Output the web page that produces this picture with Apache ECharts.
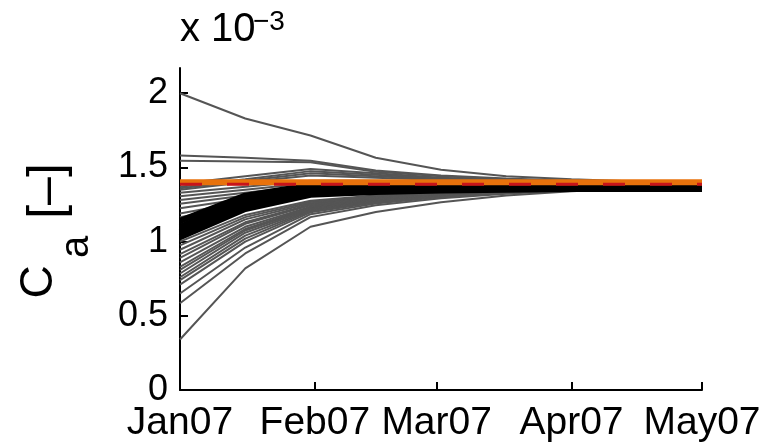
<!DOCTYPE html>
<html>
  <head>
    <meta charset="UTF-8" />
    <title>Ca convergence</title>
    <script src="https://cdn.jsdelivr.net/npm/echarts@6.0.0/dist/echarts.min.js"></script>
  </head>
  <body style="margin: 0; background: #fff">
    <div id="chart" style="width: 773px; height: 444px"></div>
  </body>
  <script>
    // sample dates of every run (every ~15 days)
    const dates = ["2007-01-01", "2007-01-16", "2007-01-31", "2007-02-15", "2007-03-02", "2007-03-17", "2007-04-01", "2007-04-16", "2007-05-01"];
    const tickDates = ["2007-01-01", "2007-02-01", "2007-03-01", "2007-04-01", "2007-05-01"];
    const tickLabels = ["Jan07", "Feb07", "Mar07", "Apr07", "May07"];
    const yTicks = [0, 0.5, 1, 1.5, 2];

    // values in units of 1e-3
    const grayRuns = [
      [2.0, 1.83, 1.715, 1.565, 1.485, 1.44, 1.42, 1.405, 1.4],
      [1.58, 1.565, 1.545, 1.48, 1.445, 1.425, 1.41, 1.4, 1.4],
      [1.545, 1.54, 1.535, 1.47, 1.44, 1.42, 1.405, 1.4, 1.4],
      [1.39, 1.44, 1.49, 1.46, 1.43, 1.415, 1.405, 1.4, 1.4],
      [1.37, 1.42, 1.475, 1.45, 1.425, 1.41, 1.4, 1.4, 1.4],
      [1.36, 1.41, 1.46, 1.44, 1.42, 1.41, 1.4, 1.4, 1.4],
      [1.35, 1.4, 1.445, 1.43, 1.415, 1.405, 1.4, 1.4, 1.4],
      [1.33, 1.37, 1.41, 1.41, 1.405, 1.4, 1.4, 1.4, 1.4],
      [1.305, 1.35, 1.395, 1.4, 1.4, 1.4, 1.4, 1.395, 1.395],
      [1.28, 1.33, 1.38, 1.39, 1.39, 1.39, 1.39, 1.39, 1.39],
      [1.255, 1.31, 1.37, 1.38, 1.385, 1.385, 1.385, 1.385, 1.385],
      [1.225, 1.29, 1.355, 1.37, 1.375, 1.38, 1.38, 1.38, 1.38],
      [1.19, 1.27, 1.345, 1.36, 1.37, 1.375, 1.375, 1.375, 1.375],
      [1.165, 1.25, 1.335, 1.355, 1.365, 1.37, 1.37, 1.37, 1.37],
      [1.0, 1.18, 1.275, 1.31, 1.335, 1.348, 1.36, 1.366, 1.37],
      [0.975, 1.165, 1.267, 1.307, 1.331, 1.346, 1.358, 1.366, 1.37],
      [0.945, 1.15, 1.258, 1.301, 1.327, 1.344, 1.357, 1.366, 1.37],
      [0.915, 1.13, 1.25, 1.296, 1.324, 1.342, 1.356, 1.365, 1.37],
      [0.89, 1.12, 1.245, 1.293, 1.322, 1.341, 1.356, 1.365, 1.37],
      [0.86, 1.1, 1.236, 1.288, 1.319, 1.339, 1.355, 1.365, 1.37],
      [0.83, 1.085, 1.23, 1.284, 1.316, 1.338, 1.354, 1.365, 1.37],
      [0.81, 1.075, 1.224, 1.28, 1.314, 1.336, 1.353, 1.364, 1.37],
      [0.785, 1.06, 1.218, 1.276, 1.312, 1.335, 1.352, 1.364, 1.37],
      [0.76, 1.04, 1.211, 1.272, 1.309, 1.333, 1.352, 1.364, 1.37],
      [0.74, 1.02, 1.205, 1.268, 1.307, 1.332, 1.351, 1.364, 1.37],
      [0.71, 1.0, 1.197, 1.264, 1.304, 1.33, 1.35, 1.363, 1.37],
      [0.65, 0.96, 1.185, 1.256, 1.3, 1.328, 1.349, 1.363, 1.37],
      [0.585, 0.92, 1.165, 1.245, 1.292, 1.323, 1.347, 1.362, 1.37],
      [0.34, 0.82, 1.1, 1.2, 1.265, 1.31, 1.34, 1.36, 1.37]
    ];
    const blackRuns = [
      [1.14, 1.31, 1.38, 1.385, 1.385, 1.385, 1.385, 1.385, 1.385],
      [1.1, 1.28, 1.36, 1.37, 1.372, 1.374, 1.375, 1.375, 1.375],
      [1.065, 1.25, 1.34, 1.355, 1.36, 1.362, 1.365, 1.365, 1.365],
      [1.03, 1.22, 1.315, 1.335, 1.345, 1.35, 1.355, 1.355, 1.355]
    ];
    const orangeLevel = [1.4, 1.4];
    const redLevel = [1.386, 1.386];

    const times = dates.map((d) => Date.parse(d));
    const tickTimes = tickDates.map((d) => Date.parse(d));
    const edgeTimes = [tickTimes[0], tickTimes[tickTimes.length - 1]];
    const font = "'Liberation Sans', Arial, Helvetica, sans-serif";

    let myChart = echarts.init(document.getElementById("chart"));

    let series = [];
    grayRuns.forEach((run) => {
      series.push({
        type: "line",
        data: run.map((v, i) => [times[i], v]),
        symbol: "none",
        lineStyle: { color: "#555555", width: 2 },
        silent: true
      });
    });
    blackRuns.forEach((run) => {
      series.push({
        type: "line",
        data: run.map((v, i) => [times[i], v]),
        symbol: "none",
        lineStyle: { color: "#000", width: 6 },
        silent: true
      });
    });
    series.push({
      type: "line",
      data: orangeLevel.map((v, i) => [edgeTimes[i], v]),
      symbol: "none",
      lineStyle: { color: "#e8720c", width: 6 },
      silent: true
    });
    series.push({
      type: "line",
      data: redLevel.map((v, i) => [edgeTimes[i], v]),
      symbol: "none",
      lineStyle: { color: "#c8141a", width: 3, type: [22, 25] },
      silent: true
    });

    myChart.setOption({
      animation: false,
      grid: { left: 180, right: 71, top: 68, bottom: 54, outerBoundsMode: "none" },
      xAxis: {
        type: "value",
        min: edgeTimes[0],
        max: edgeTimes[1],
        axisLine: { lineStyle: { color: "#000", width: 2 } },
        axisTick: { inside: true, length: 8, customValues: tickTimes, lineStyle: { color: "#000", width: 2 } },
        axisLabel: {
          customValues: tickTimes,
          formatter: (v) => tickLabels[tickTimes.indexOf(v)],
          color: "#000",
          fontSize: 39,
          fontFamily: font,
          margin: 14
        },
        splitLine: { show: false }
      },
      yAxis: {
        type: "value",
        min: 0,
        max: 2.17,
        axisLine: { show: true, lineStyle: { color: "#000", width: 2 } },
        axisTick: { show: true, inside: true, length: 8, customValues: yTicks, lineStyle: { color: "#000", width: 2 } },
        axisLabel: {
          customValues: yTicks,
          formatter: (v) => String(v),
          color: "#000",
          fontSize: 36,
          fontFamily: font,
          margin: 12
        },
        splitLine: { show: false }
      },
      graphic: [
        { type: "text", x: 180, y: 50, style: { text: "x 10", fontSize: 40, fontFamily: font, fill: "#000", textVerticalAlign: "bottom" } },
        { type: "text", x: 253, y: 8, style: { text: "\u22123", fontSize: 28, fontFamily: font, fill: "#000", textVerticalAlign: "top" } },
        { type: "text", x: 39, y: 282, rotation: Math.PI / 2, style: { text: "C", fontSize: 46, fontFamily: font, fill: "#000", textAlign: "center", textVerticalAlign: "middle" } },
        { type: "text", x: 77, y: 247, rotation: Math.PI / 2, style: { text: "a", fontSize: 40, fontFamily: font, fill: "#000", textAlign: "center", textVerticalAlign: "middle" } },
        { type: "text", x: 48, y: 191, rotation: Math.PI / 2, style: { text: "[\u2013]", fontSize: 50, fontFamily: font, fill: "#000", textAlign: "center", textVerticalAlign: "middle" } }
      ],
      series: series
    });
  </script>
</html>
